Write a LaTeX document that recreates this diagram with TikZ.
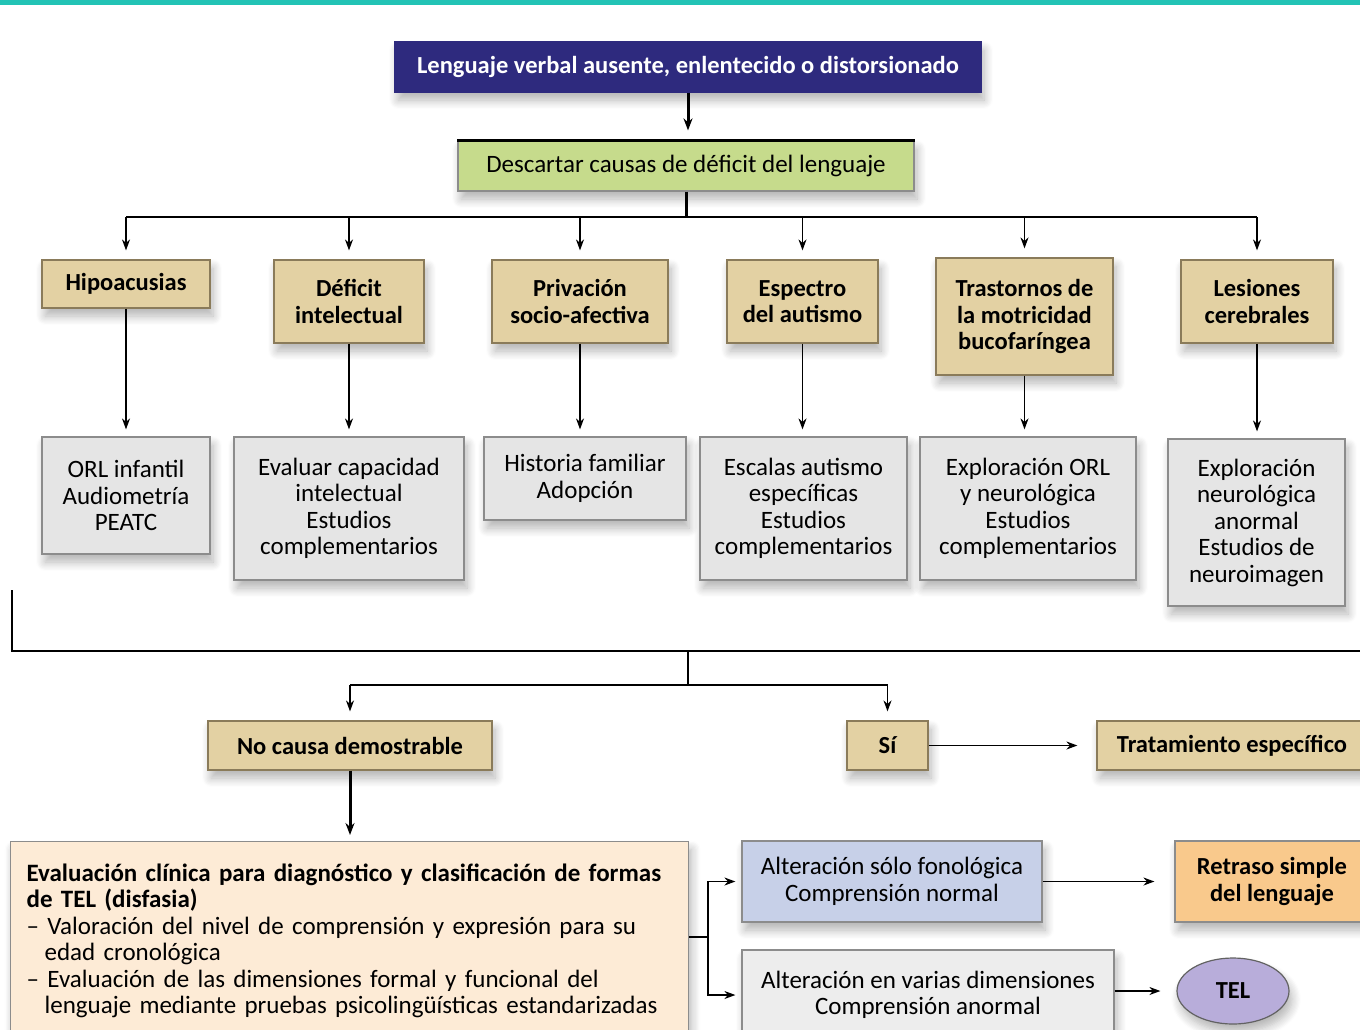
\documentclass[tikz,border=0pt]{standalone}
\usepackage{fontspec}
\setmainfont{Carlito}
\usetikzlibrary{shadows.blur,arrows.meta,shapes.geometric}
\definecolor{navy}{HTML}{2E2A7E}
\definecolor{greenbox}{HTML}{C6DB8C}
\definecolor{tan}{HTML}{E3D1A3}
\definecolor{tanline}{HTML}{8A7B5A}
\definecolor{graybox}{HTML}{E5E5E5}
\definecolor{grayline}{HTML}{8C8C8C}
\definecolor{peach}{HTML}{FDEBD6}
\definecolor{bluebox}{HTML}{C7D0E8}
\definecolor{orangebox}{HTML}{F9C98C}
\definecolor{lavender}{HTML}{B8ADDA}
\definecolor{teal}{HTML}{22C3B5}
\newcommand{\regfont}{\fontsize{25}{26.5}\selectfont\lineskiplimit=-30pt}
\newcommand{\boldfont}{\bfseries\fontsize{24.5}{26.5}\selectfont\lineskiplimit=-30pt}
\tikzset{
  base/.style={draw, line width=1.2pt, align=center, inner sep=2pt,
    font=\regfont,
    blur shadow={shadow xshift=3pt, shadow yshift=-8pt, shadow blur radius=9pt, shadow blur steps=8, shadow opacity=30}},
  titlebox/.style={base, fill=navy, draw=navy, text=white, font=\boldfont},
  greenbx/.style={base, fill=greenbox, draw=grayline},
  cat/.style={base, fill=tan, draw=tanline, font=\boldfont},
  test/.style={base, fill=graybox, draw=grayline},
  link/.style={line width=1.5pt, -{Stealth[length=11pt,width=8pt]}},
  plain/.style={line width=1.5pt},
  thick link/.style={line width=3pt, -{Stealth[length=12pt,width=9pt]}},
}
\begin{document}
\begin{tikzpicture}[x=1pt,y=-1pt]
\useasboundingbox (0,0) rectangle (1360,1029);
\fill[teal] (0,0) rectangle (1360,5);

\node[titlebox, minimum width=586, minimum height=50] (title) at (688,67) {Lenguaje verbal ausente, enlentecido o distorsionado};
\node[greenbx, minimum width=456, minimum height=50] (desc) at (686,166) {Descartar causas de déficit del lenguaje};
\draw[line width=3pt] (desc.north west) -- (desc.north east);
\draw[thick link, shorten >=10pt] (title.south) -- (title.south |- desc.north);

% categories
\node[cat, minimum width=168, minimum height=48] (hip) at (126,284) {Hipoacusias};
\node[cat, minimum width=150, minimum height=83] (def) at (349,301.5) {Déficit\\intelectual};
\node[cat, minimum width=176, minimum height=83] (priv) at (580,301.5) {Privación\\socio-afectiva};
\node[cat, minimum width=151, minimum height=83] (esp) at (802.5,301.5) {Espectro\\del autismo};
\node[cat, minimum width=177, minimum height=117] (tras) at (1024.5,316.5) {Trastornos de\\la motricidad\\bucofaríngea};
\node[cat, minimum width=152, minimum height=83] (les) at (1257,301.5) {Lesiones\\cerebrales};

\coordinate (bus) at (686,217);
\draw[line width=3pt] (desc.south) -- (bus);
\draw[plain] (hip.north |- bus) -- (les.north |- bus);
\foreach \n in {hip,def,priv,esp,tras,les}{
  \draw[link, shorten >=9pt] (\n.north |- bus) -- (\n.north);
}

% tests
\node[test, minimum width=168, minimum height=117] (orl) at (126,495.5) {ORL infantil\\Audiometría\\PEATC};
\node[test, minimum width=230, minimum height=143] (evc) at (349,508.5) {Evaluar capacidad\\intelectual\\Estudios\\complementarios};
\node[test, minimum width=202, minimum height=83] (hist) at (585,478.5) {Historia familiar\\Adopción};
\node[test, minimum width=207, minimum height=143] (esc) at (803.5,508.5) {Escalas autismo\\específicas\\Estudios\\complementarios};
\node[test, minimum width=216, minimum height=143] (expl) at (1028,508.5) {Exploración ORL\\y neurológica\\Estudios\\complementarios};
\node[test, minimum width=177, minimum height=167] (neu) at (1256.5,522.5) {Exploración\\neurológica\\anormal\\Estudios de\\neuroimagen};

\draw[link, shorten >=7pt] (hip.south) -- (hip.south |- orl.north);
\draw[link, shorten >=7pt] (def.south) -- (def.south |- evc.north);
\draw[link, shorten >=7pt] (priv.south) -- (priv.south |- hist.north);
\draw[link, shorten >=7pt] (esp.south) -- (esp.south |- esc.north);
\draw[link, shorten >=7pt] (tras.south) -- (tras.south |- expl.north);
\draw[link, shorten >=7pt] (les.south) -- (les.south |- neu.north);

% collecting line
\coordinate (c1) at (12,590);
\coordinate (c2) at (12,651);
\coordinate (c3) at (1360,651);
\coordinate (c4) at (688,651);
\coordinate (c5) at (688,685);
\draw[plain] (c1) -- (c2) -- (c3);

\node[cat, minimum width=284, minimum height=49] (noc) at (350,745.5) {No causa demostrable};
\node[cat, minimum width=81, minimum height=49] (si) at (887.5,745.5) {Sí};
\node[cat, minimum width=270, minimum height=49] (trat) at (1232,745.5) {Tratamiento específico};

\draw[plain] (c4) -- (c5);
\draw[plain] (noc.north |- c5) -- (si.north |- c5);
\draw[link, shorten >=9pt] (noc.north |- c5) -- (noc.north);
\draw[link, shorten >=9pt] (si.north |- c5) -- (si.north);
\draw[link, shorten >=19pt] (si.east) -- (trat.west);

% clinical evaluation
\node[base, fill=peach, draw=grayline, minimum width=678, minimum height=198, inner xsep=16pt, text width=646, align=left, anchor=north west] (clin) at (10,841)
{\textbf{Evaluación clínica para diagnóstico y clasificación de formas}\\
\textbf{de TEL (disfasia)}\\
– Valoración del nivel de comprensión y expresión para su\\
\hspace*{18pt}edad cronológica\\
– Evaluación de las dimensiones formal y funcional del\\
\hspace*{18pt}lenguaje mediante pruebas psicolingüísticas estandarizadas};
\draw[thick link, shorten >=6pt] (noc.south) -- (noc.south |- clin.north);

\node[base, fill=bluebox, draw=grayline, minimum width=300, minimum height=81] (fono) at (892,881.5) {Alteración sólo fonológica\\Comprensión normal};
\node[base, fill=orangebox, draw=grayline, minimum width=194, minimum height=81, font=\boldfont] (retr) at (1272,881.5) {Retraso simple\\del lenguaje};
\node[base, fill=graybox!70!white, draw=grayline, minimum width=372, minimum height=90] (var) at (928,995) {Alteración en varias dimensiones\\Comprensión anormal};
\node[base, ellipse, fill=lavender, draw=grayline!70!black, minimum width=112, minimum height=66, font=\boldfont] (tel) at (1233,991) {TEL};

\coordinate (sp) at (708,937);
\draw[plain] (clin.east |- sp) -- (sp);
\draw[link, shorten >=6pt] (sp) |- (fono.west);
\draw[link, shorten >=6pt] (sp) |- (var.west);
\draw[link, shorten >=20pt] (fono.east) -- (retr.west);
\draw[link, shorten >=16pt] (tel.west -| var.east) -- (tel.west);
\end{tikzpicture}
\end{document}
